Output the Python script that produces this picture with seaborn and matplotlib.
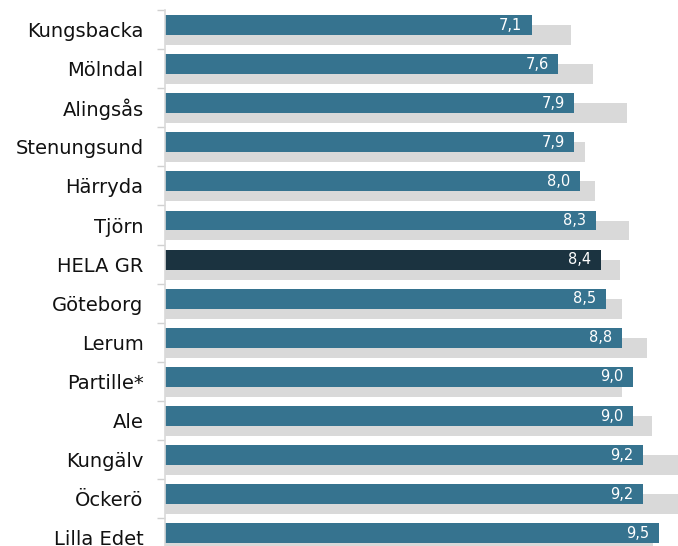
import numpy as np
import pandas as pd
import matplotlib
matplotlib.use("Agg")
import matplotlib.pyplot as plt
import seaborn as sns

# ── Data ────────────────────────────────────────────────────
kommuner = ["Kungsbacka", "Mölndal", "Alingsås", "Stenungsund", "Härryda",
            "Tjörn", "HELA GR", "Göteborg", "Lerum", "Partille*", "Ale",
            "Kungälv", "Öckerö", "Lilla Edet"]
varden = [7.1, 7.6, 7.9, 7.9, 8.0, 8.3, 8.4, 8.5, 8.8, 9.0, 9.0, 9.2, 9.2, 9.5]
jamfor = [7.83, 8.25, 8.89, 8.10, 8.29, 8.93, 8.76, 8.80, 9.27, 8.80, 9.36,
          10.0, 10.0, 9.38]

BLUE = "#36738f"
DARK = "#1b3340"
GREY = "#d9d9d9"

sns.set_theme(style="white")
plt.rcParams["font.family"] = ["DejaVu Sans"]

idx = np.arange(len(kommuner))
df = pd.DataFrame({"kommun": kommuner, "varde": varden, "jamfor": jamfor})
df["pos_blue"] = idx - 0.116
df["pos_grey"] = idx + 0.14
palette = {k: (DARK if k == "HELA GR" else BLUE) for k in kommuner}

fig = plt.figure(figsize=(6.78, 5.46), dpi=100)
ax = fig.add_axes([165 / 678, -0.0209, 513 / 678, 1.0026])

# grey comparison bars behind
sns.barplot(data=df, x="jamfor", y="pos_grey", orient="h", native_scale=True,
            width=0.51, color=GREY, saturation=1, linewidth=0, ax=ax, zorder=1)
# main bars
sns.barplot(data=df, x="varde", y="pos_blue", hue="kommun", palette=palette,
            orient="h", native_scale=True, width=0.51, saturation=1,
            linewidth=0, legend=False, ax=ax, zorder=2)

for v, p in zip(df["varde"], df["pos_blue"]):
    ax.annotate(f"{v:.1f}".replace(".", ","), xy=(v, p), xytext=(-7, 0),
                textcoords="offset points", ha="right", va="center",
                color="white", fontsize=10.5, zorder=3)

ax.set_xlim(0.207, 9.85)
ax.set_ylim(len(kommuner) - 0.5, -0.5)
ax.set_xticks([])
ax.set_yticks(idx)
ax.set_yticklabels(kommuner, fontsize=14)
ax.set_yticks(idx - 0.5, minor=True)
ax.tick_params(axis="y", which="major", length=0, pad=15.5, colors="#111111")
ax.tick_params(axis="y", which="minor", left=True, length=5.5, width=1,
               color="#d0d0d0")
ax.set_xlabel("")
ax.set_ylabel("")
for s in ["top", "right", "bottom"]:
    ax.spines[s].set_visible(False)
ax.spines["left"].set_color("#d9d9d9")
ax.spines["left"].set_linewidth(1.2)

plt.savefig("out.png", dpi=100)
plt.close()
